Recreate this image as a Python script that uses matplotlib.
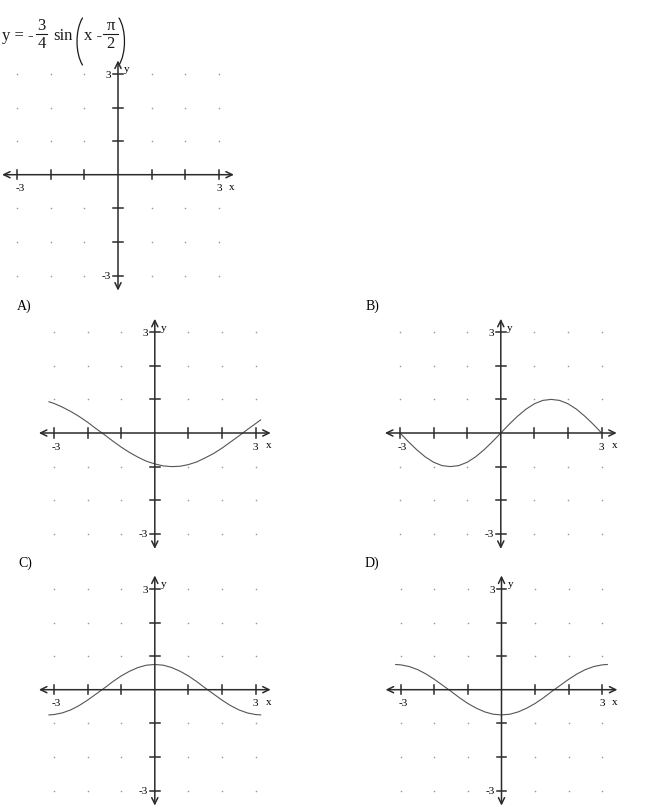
import numpy as np
import matplotlib
matplotlib.use("Agg")
import matplotlib.pyplot as plt
from matplotlib.path import Path
from matplotlib.patches import PathPatch

plt.rcParams["font.family"] = ["Liberation Serif", "DejaVu Serif"]

# sample points
x_vals = [-3.15, -3.0, -2.75, -2.5, -2.25, -2.0, -1.75, -1.5, -1.25, -1.0, -0.75, -0.5, -0.25,
          0.0, 0.25, 0.5, 0.75, 1.0, 1.25, 1.5, 1.75, 2.0, 2.25, 2.5, 2.75, 3.0, 3.15]
y_a = [0.93, 0.88, 0.77, 0.64, 0.49, 0.32, 0.13, -0.05, -0.24, -0.42, -0.58, -0.72, -0.84,
       -0.92, -0.98, -1.00, -0.99, -0.94, -0.86, -0.74, -0.61, -0.45, -0.27, -0.09, 0.10, 0.28, 0.39]
y_b = [np.nan, 0.0, -0.26, -0.5, -0.71, -0.87, -0.97, -1.0, -0.97, -0.87, -0.71, -0.5, -0.26,
       0.0, 0.26, 0.5, 0.71, 0.87, 0.97, 1.0, 0.97, 0.87, 0.71, 0.5, 0.26, 0.0, np.nan]
y_c = [-0.75, -0.74, -0.69, -0.60, -0.47, -0.31, -0.13, 0.05, 0.24, 0.41, 0.55, 0.66, 0.73,
       0.75, 0.73, 0.66, 0.55, 0.41, 0.24, 0.05, -0.13, -0.31, -0.47, -0.60, -0.69, -0.74, -0.75]
y_d = [0.75, 0.74, 0.69, 0.60, 0.47, 0.31, 0.13, -0.05, -0.24, -0.41, -0.55, -0.66, -0.73,
       -0.75, -0.73, -0.66, -0.55, -0.41, -0.24, -0.05, 0.13, 0.31, 0.47, 0.60, 0.69, 0.74, 0.75]

ticks = [-3, -2, -1, 1, 2, 3]
labels = ["A)", "B)", "C)", "D)"]
curves = [y_a, y_b, y_c, y_d]

W, H = 650, 811
UNIT = 33.6      # pixels per unit
HALF = 3.6       # half range of each axes
AX_COL = "#2b2b2b"
TXT = "#1a1a1a"

fig = plt.figure(figsize=(W / 100, H / 100), dpi=100)


def make_axes(ox, oy):
    size = 2 * HALF * UNIT
    left = (ox - HALF * UNIT) / W
    bottom = 1 - (oy + HALF * UNIT) / H
    ax = fig.add_axes([left, bottom, size / W, size / H])
    ax.set_xlim(-HALF, HALF)
    ax.set_ylim(-HALF, HALF)
    ax.axis("off")

    gx, gy = np.meshgrid(ticks, ticks)
    ax.scatter(gx.ravel(), gy.ravel(), s=1.4, color="#9a9a9a", lw=0)

    style = "<->,head_length=0.45,head_width=0.22"
    ax.annotate("", xy=(3.45, 0), xytext=(-3.45, 0),
                arrowprops=dict(arrowstyle=style, color=AX_COL, lw=1.1,
                                shrinkA=0, shrinkB=0))
    ax.annotate("", xy=(0, 3.4), xytext=(0, -3.45),
                arrowprops=dict(arrowstyle=style, color=AX_COL, lw=1.1,
                                shrinkA=0, shrinkB=0))
    for t in ticks:
        ax.plot([t, t], [-0.14, 0.14], color=AX_COL, lw=1.1)
        ax.plot([-0.14, 0.14], [t, t], color=AX_COL, lw=1.1)

    fs = 8
    ax.text(-2.92, -0.42, "-3", fontsize=fs, ha="center", va="center")
    ax.text(3.0, -0.42, "3", fontsize=fs, ha="center", va="center")
    ax.text(3.38, -0.38, "x", fontsize=fs, ha="center", va="center")
    ax.text(-0.2, 2.95, "3", fontsize=fs, ha="right", va="center")
    ax.text(-0.2, -3.02, "-3", fontsize=fs, ha="right", va="center")
    ax.text(0.27, 3.12, "y", fontsize=fs, ha="center", va="center")
    return ax


# equation drawn piece by piece in pixel coordinates
eq = fig.add_axes([0, 0, 1, 1])
eq.set_xlim(0, W)
eq.set_ylim(H, 0)
eq.axis("off")
EFS = 12


def paren(x_end, x_mid, y0, y1):
    # tall bracket: curve from top end, out to x_mid, back to bottom end
    xc = (4 * x_mid - x_end) / 3
    verts = [(x_end, y0), (xc, y0 + 0.25 * (y1 - y0)),
             (xc, y1 - 0.25 * (y1 - y0)), (x_end, y1)]
    codes = [Path.MOVETO, Path.CURVE4, Path.CURVE4, Path.CURVE4]
    eq.add_patch(PathPatch(Path(verts, codes), fill=False, ec=TXT, lw=0.9,
                           capstyle="round"))


def frac(top, bot, xc, x0, x1):
    eq.text(xc, 30, top, fontsize=EFS, ha="center", va="baseline", color=TXT)
    eq.text(xc, 48, bot, fontsize=EFS, ha="center", va="baseline", color=TXT)
    eq.plot([x0, x1], [34, 34], color=TXT, lw=0.8)


eq.text(2, 40, "y = -", fontsize=EFS, ha="left", va="baseline", color=TXT)
frac("3", "4", 41.5, 36, 47)
eq.text(53, 40, "sin", fontsize=EFS, ha="left", va="baseline", color=TXT)
paren(82.5, 77, 18, 65)
eq.text(84.5, 40, "x -", fontsize=EFS, ha="left", va="baseline", color=TXT)
frac("\u03c0", "2", 110.5, 103, 118)
paren(119, 124.5, 18, 65)

# the question graph (blank grid)
make_axes(118, 174.7)

origins = [(154.8, 433), (500.8, 433), (154.8, 689.7), (501.5, 689.7)]
label_pos = [(17, 306), (366, 306), (18, 563), (365, 563)]

for (ox, oy), (lx, ly), lab, yv in zip(origins, label_pos, labels, curves):
    ax = make_axes(ox, oy)
    ax.plot(x_vals, yv, color="#555555", lw=0.8)
    fig.text(lx / W, 1 - ly / H, lab, fontsize=10, ha="left", va="center")

fig.savefig("out.png", dpi=100)
